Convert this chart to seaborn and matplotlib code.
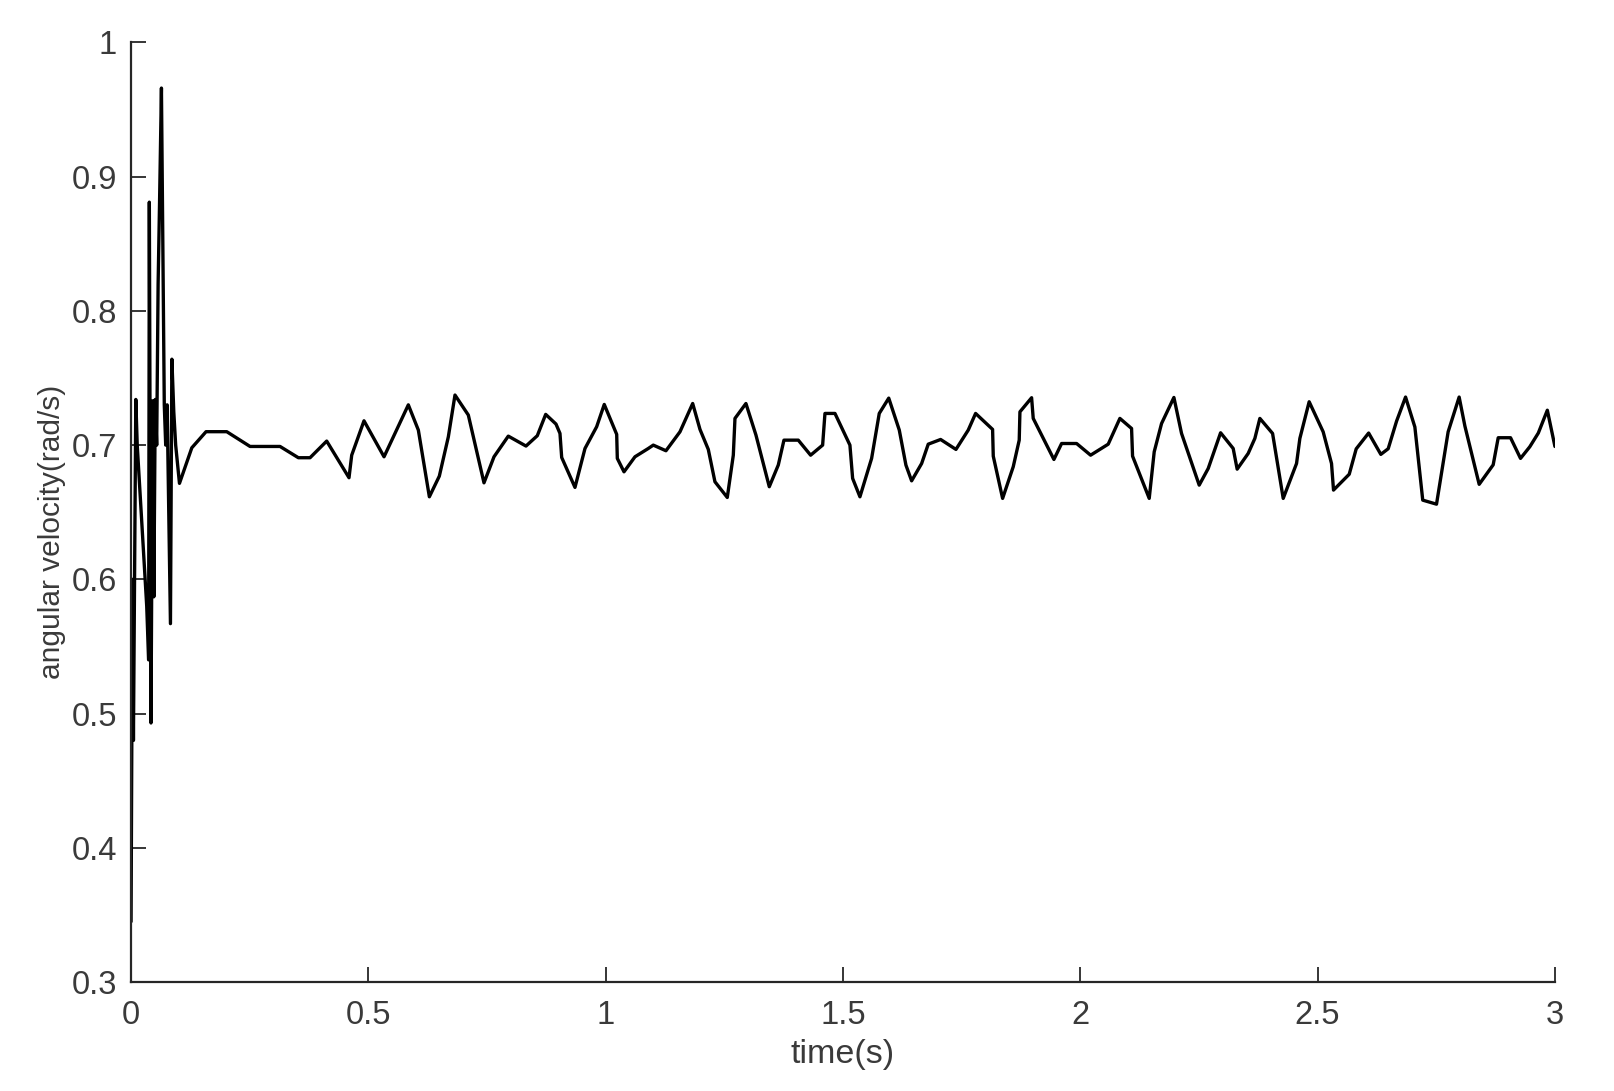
import matplotlib
matplotlib.use("Agg")
import matplotlib.pyplot as plt
import seaborn as sns
import pandas as pd
from matplotlib.ticker import FuncFormatter

# ---- data ----
time_s = [
    0.000, 0.003, 0.005, 0.010, 0.013, 0.033, 0.037, 0.0385, 0.042, 0.0455,
    0.048, 0.051, 0.054, 0.057, 0.060, 0.064, 0.067, 0.070, 0.073, 0.076,
    0.083, 0.086, 0.090, 0.094, 0.102,
    0.128, 0.158, 0.2016, 0.2507, 0.3139, 0.3525, 0.3771, 0.4122, 0.4592, 0.4649,
    0.4908, 0.533, 0.5842, 0.6053, 0.6285, 0.6495, 0.6685, 0.6825, 0.7106, 0.7436,
    0.7647, 0.7948, 0.8321, 0.8559, 0.8736, 0.8953, 0.9037, 0.9073, 0.9353, 0.9564,
    0.981, 0.997, 1.0232, 1.0245, 1.0386, 1.0617, 1.0898, 1.1003, 1.127, 1.1565,
    1.1833, 1.1987, 1.2162, 1.2302, 1.2562, 1.2689, 1.2724, 1.2955, 1.3166, 1.3447,
    1.3637, 1.3756, 1.4058, 1.4318, 1.4571, 1.462, 1.4831, 1.5146, 1.5203, 1.5357,
    1.5603, 1.5764, 1.5964, 1.6186, 1.6326, 1.6446, 1.6657, 1.6796, 1.7057, 1.738,
    1.7639, 1.7794, 1.8152, 1.8166, 1.8363, 1.8587, 1.8713, 1.8728, 1.8974, 1.9008,
    1.9444, 1.9606, 1.9922, 2.0217, 2.0588, 2.0834, 2.108, 2.1101, 2.1452, 2.1557,
    2.1712, 2.1972, 2.2133, 2.2505, 2.2695, 2.2956, 2.3221, 2.3305, 2.3537, 2.3678,
    2.3783, 2.4051, 2.4275, 2.4556, 2.4626, 2.4822, 2.5117, 2.5293, 2.5335, 2.5666,
    2.5813, 2.6075, 2.6332, 2.6487, 2.6664, 2.6853, 2.7049, 2.7215, 2.7505, 2.775,
    2.7982, 2.8103, 2.8404, 2.8699, 2.8805, 2.9065, 2.9275, 2.9471, 2.965, 2.984,
    3.000,
]
angular_velocity = [
    0.345, 0.600, 0.480, 0.734, 0.700, 0.580, 0.540, 0.881, 0.493, 0.733,
    0.587, 0.734, 0.700, 0.820, 0.880, 0.966, 0.850, 0.730, 0.700, 0.730,
    0.567, 0.764, 0.725, 0.700, 0.6715,
    0.698, 0.710, 0.710, 0.699, 0.699, 0.6906, 0.6906, 0.703, 0.6757, 0.6925,
    0.7181, 0.6913, 0.730, 0.7112, 0.6615, 0.6769, 0.7062, 0.7373, 0.7224, 0.6719,
    0.6913, 0.7067, 0.6993, 0.707, 0.7229, 0.7157, 0.7087, 0.6908, 0.6685, 0.6975,
    0.7137, 0.7303, 0.708, 0.6901, 0.6801, 0.6913, 0.6975, 0.700, 0.6958, 0.7099,
    0.731, 0.7117, 0.6968, 0.6727, 0.661, 0.6925, 0.7199, 0.731, 0.7075, 0.669,
    0.6852, 0.7037, 0.7037, 0.6925, 0.700, 0.7236, 0.7236, 0.700, 0.6752, 0.6615,
    0.6901, 0.7236, 0.735, 0.7112, 0.6851, 0.6734, 0.6863, 0.7007, 0.7042, 0.6968,
    0.7112, 0.7236, 0.7117, 0.6918, 0.6603, 0.6839, 0.7037, 0.7248, 0.7353, 0.7199,
    0.6893, 0.7012, 0.7012, 0.6925, 0.7007, 0.7199, 0.7124, 0.6918, 0.6603, 0.695,
    0.7161, 0.7355, 0.7087, 0.6702, 0.6826, 0.7092, 0.6975, 0.6821, 0.6938, 0.705,
    0.7199, 0.7087, 0.6603, 0.6863, 0.705, 0.7323, 0.7099, 0.6863, 0.6665, 0.6783,
    0.6972, 0.709, 0.6931, 0.6973, 0.7179, 0.7358, 0.7135, 0.659, 0.656, 0.7099,
    0.7358, 0.7142, 0.6708, 0.6853, 0.7055, 0.7055, 0.6901, 0.6988, 0.709, 0.726,
    0.699,
]
x_ticks = [0, 0.5, 1, 1.5, 2, 2.5, 3]
y_ticks = [0.3, 0.4, 0.5, 0.6, 0.7, 0.8, 0.9, 1.0]
x_label = "time(s)"
y_label = "angular velocity(rad/s)"

df = pd.DataFrame({"t": time_s, "w": angular_velocity})

sns.set_style("white")
plt.rcParams["font.family"] = ["Liberation Sans", "DejaVu Sans"]

axis_col = "#262626"
text_col = "#3a3a3a"

fig = plt.figure(figsize=(16.14, 10.91), dpi=100)
ax = fig.add_axes([0.0812, 0.0999, 0.8822, 0.8612])

sns.lineplot(data=df, x="t", y="w", ax=ax, color="black", linewidth=2.4,
             estimator=None, sort=False)

ax.set_xlim(0, 3)
ax.set_ylim(0.3, 1.0)
ax.set_xticks(x_ticks)
ax.set_yticks(y_ticks)
fmt = FuncFormatter(lambda v, p: f"{v:g}")
ax.xaxis.set_major_formatter(fmt)
ax.yaxis.set_major_formatter(fmt)

for s in ["top", "right"]:
    ax.spines[s].set_visible(False)
for s in ["left", "bottom"]:
    ax.spines[s].set_color(axis_col)
    ax.spines[s].set_linewidth(1.6)

ax.tick_params(axis="both", which="major", direction="in", length=10.5, width=1.3,
               color=axis_col, labelcolor=text_col, labelsize=23.5,
               bottom=True, left=True, top=False, right=False)
ax.tick_params(axis="x", pad=13)
ax.tick_params(axis="y", pad=10)

ax.set_xlabel(x_label, fontsize=24.5, color=text_col, labelpad=6)
ax.set_ylabel(y_label, fontsize=21.5, color=text_col)
ax.yaxis.set_label_coords(-0.046, 0.479)

fig.savefig("out.png", dpi=100, facecolor="white")
